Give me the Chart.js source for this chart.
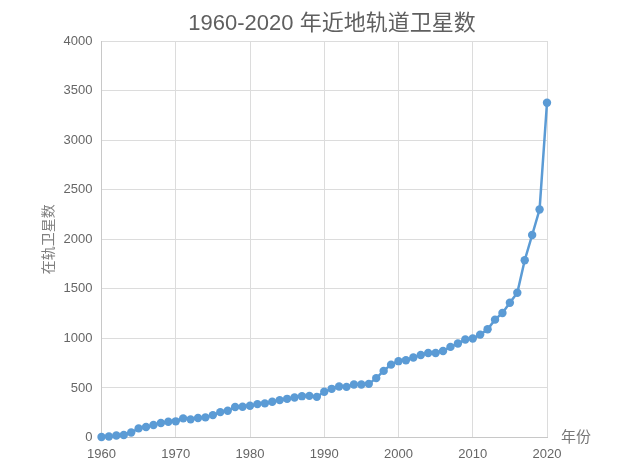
<!DOCTYPE html>
<html>
<head>
<meta charset="utf-8">
<script src="https://cdn.jsdelivr.net/npm/chart.js@4"></script>
<style>
html,body{margin:0;padding:0;background:#fff;}
#wrap{position:relative;width:641px;height:471px;}
</style>
</head>
<body>
<div id="wrap"><canvas id="c" width="641" height="471"></canvas></div>
<script>
const TITLE = '1960-2020 年近地轨道卫星数';
const X_TITLE = '年份';
const Y_TITLE = '在轨卫星数';
const years = [1960,1961,1962,1963,1964,1965,1966,1967,1968,1969,
  1970,1971,1972,1973,1974,1975,1976,1977,1978,1979,
  1980,1981,1982,1983,1984,1985,1986,1987,1988,1989,
  1990,1991,1992,1993,1994,1995,1996,1997,1998,1999,
  2000,2001,2002,2003,2004,2005,2006,2007,2008,2009,
  2010,2011,2012,2013,2014,2015,2016,2017,2018,2019,2020];
const satellites = [5,10,20,25,50,92,106,126,146,159,
  163,193,183,196,203,226,256,270,307,310,
  320,337,344,360,377,390,404,417,420,410,
  461,491,515,511,535,535,541,599,672,735,
  770,780,807,833,853,853,873,914,948,988,
  998,1038,1092,1189,1256,1360,1461,1788,2043,2300,3377];
const xTicks = [1960,1970,1980,1990,2000,2010,2020];
const yTicks = [0,500,1000,1500,2000,2500,3000,3500,4000];

const FONT = "'Liberation Sans','Noto Sans CJK SC',sans-serif";
const CJK = "'Noto Sans CJK SC','Liberation Sans',sans-serif";

const extraText = {
  id: 'extraText',
  afterDraw(chart) {
    const ctx = chart.ctx, a = chart.chartArea;
    ctx.save();
    ctx.fillStyle = '#5f5f5f';
    ctx.font = '22px ' + FONT;
    ctx.textAlign = 'center';
    ctx.textBaseline = 'middle';
    ctx.fillText(TITLE, 332, 24);
    ctx.fillStyle = '#777';
    ctx.font = '15px ' + CJK;
    ctx.textAlign = 'left';
    ctx.fillText(X_TITLE, a.right + 14, a.bottom - 1);
    ctx.restore();
  }
};

new Chart(document.getElementById('c'), {
  type: 'line',
  data: {
    datasets: [{
      data: years.map((y, i) => ({x: y, y: satellites[i]})),
      borderColor: '#5b9bd5',
      backgroundColor: '#5b9bd5',
      borderWidth: 2.5,
      pointRadius: 4.2,
      pointHoverRadius: 4.2,
      pointBorderWidth: 0,
      tension: 0,
      fill: false,
      clip: false
    }]
  },
  options: {
    responsive: false,
    animation: false,
    layout: {padding: {left: 0, right: 94, top: 41, bottom: 0}},
    plugins: {legend: {display: false}, title: {display: false}, tooltip: {enabled: false}},
    scales: {
      x: {
        type: 'linear',
        min: 1960, max: 2020,
        afterBuildTicks(s) { s.ticks = xTicks.map(v => ({value: v})); },
        afterFit(s) { s.height = 33.5; },
        grid: {color: '#dcdcdc', lineWidth: 1, drawTicks: false},
        border: {color: '#c8c8c8', width: 1},
        ticks: {color: '#666', font: {family: FONT, size: 13}, padding: 9, maxRotation: 0,
          callback: v => String(v)}
      },
      y: {
        min: 0, max: 4000,
        afterBuildTicks(s) { s.ticks = yTicks.map(v => ({value: v})); },
        afterFit(s) { s.width = 101.5; },
        grid: {color: '#dcdcdc', lineWidth: 1, drawTicks: false},
        border: {color: '#c8c8c8', width: 1},
        ticks: {color: '#666', font: {family: FONT, size: 13}, padding: 9,
          callback: v => String(v)},
        title: {display: true, text: Y_TITLE, color: '#7f7f7f',
          font: {family: CJK, size: 14}, padding: {top: 39, bottom: 0}}
      }
    }
  },
  plugins: [extraText]
});
</script>
</body>
</html>
